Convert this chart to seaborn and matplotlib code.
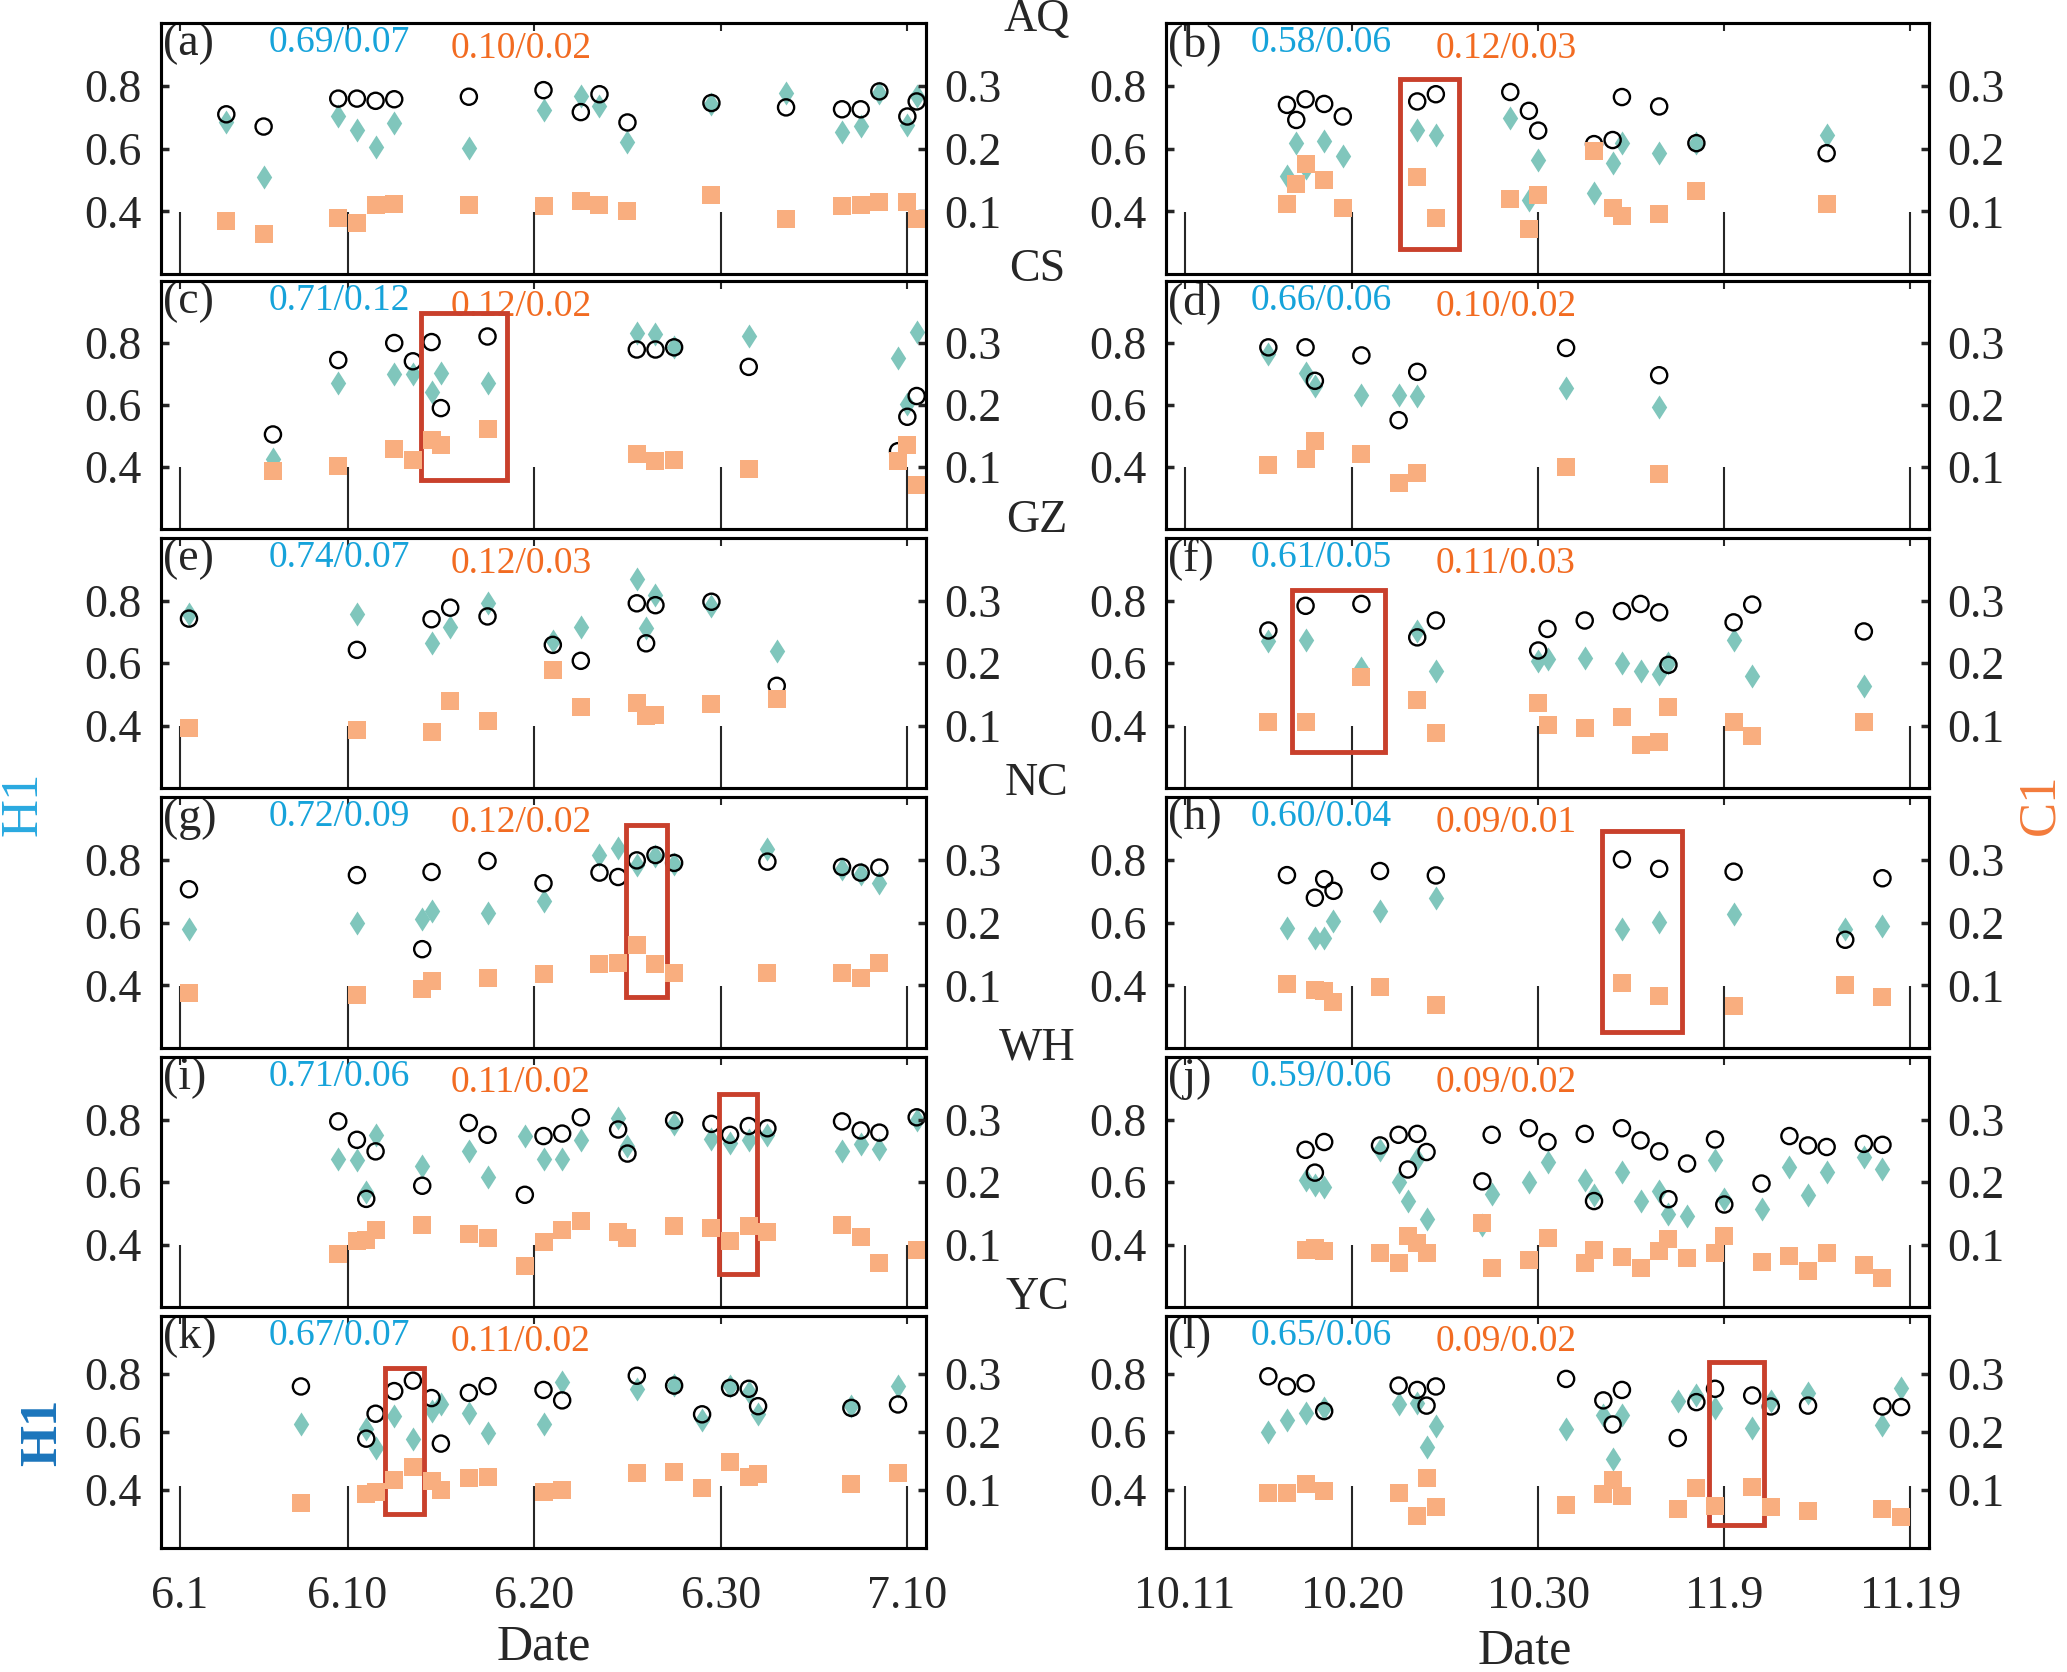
import matplotlib
matplotlib.use("Agg")
import matplotlib.pyplot as plt
from matplotlib.patches import Rectangle
from matplotlib.path import Path
import seaborn as sns

# days counted from the first tick of each column (6.1 on the left, 10.11 on the right)
# obs = open circles (H1), mod = teal diamonds (H1), c1 = squares on right axis (C1)
a_day = [2.5, 4.5, 8.5, 9.5, 10.5, 11.5, 15.5, 19.5, 21.5, 22.5, 24, 28.5, 32.5, 35.5, 36.5, 37.5, 39, 39.5]
a_obs = [0.709, 0.670, 0.759, 0.759, 0.752, 0.757, 0.765, 0.786, 0.716, 0.773, 0.683, 0.745, 0.731, 0.725, 0.725, 0.782, 0.702, 0.750]
a_mod = [0.686, 0.510, 0.702, 0.659, 0.604, 0.681, 0.603, 0.723, 0.768, 0.734, 0.620, 0.742, 0.777, 0.654, 0.672, 0.777, 0.675, 0.766]
a_c1 = [0.084, 0.064, 0.090, 0.082, 0.110, 0.112, 0.110, 0.108, 0.116, 0.110, 0.101, 0.126, 0.087, 0.108, 0.110, 0.115, 0.115, 0.087]

b_day = [5.5, 6, 6.5, 7.5, 8.5, 12.5, 13.5, 17.5, 18.5, 19, 22, 23, 23.5, 25.5, 27.5, 34.5]
b_obs = [0.739, 0.691, 0.757, 0.742, 0.702, 0.750, 0.773, 0.780, 0.720, 0.657, 0.614, 0.627, 0.764, 0.734, 0.617, 0.585]
b_mod = [0.513, 0.617, 0.537, 0.624, 0.577, 0.659, 0.643, 0.697, 0.437, 0.563, 0.459, 0.553, 0.617, 0.585, 0.617, 0.643]
b_c1 = [0.112, 0.144, 0.175, 0.150, 0.105, 0.155, 0.089, 0.120, 0.071, 0.126, 0.196, 0.105, 0.092, 0.095, 0.132, 0.112]

c_day = [5, 8.5, 11.5, 12.5, 13.5, 14, 16.5, 24.5, 25.5, 26.5, 30.5, 38.5, 39, 39.5]
c_obs = [0.505, 0.745, 0.800, 0.741, 0.803, 0.590, 0.821, 0.779, 0.779, 0.786, 0.723, 0.451, 0.562, 0.629]
c_mod = [0.427, 0.670, 0.699, 0.699, 0.643, 0.702, 0.670, 0.832, 0.829, 0.786, 0.821, 0.752, 0.603, 0.837]
c_c1 = [0.094, 0.102, 0.129, 0.111, 0.143, 0.136, 0.161, 0.121, 0.110, 0.112, 0.097, 0.110, 0.135, 0.071]

d_day = [4.5, 6.5, 7, 9.5, 11.5, 12.5, 20.5, 25.5]
d_obs = [0.786, 0.786, 0.678, 0.760, 0.551, 0.707, 0.784, 0.696]
d_mod = [0.765, 0.702, 0.662, 0.631, 0.631, 0.629, 0.656, 0.594]
d_c1 = [0.103, 0.113, 0.142, 0.121, 0.074, 0.091, 0.100, 0.088]

e_day = [0.5, 9.5, 13.5, 14.5, 16.5, 20, 21.5, 24.5, 25, 25.5, 28.5, 32]
e_obs = [0.742, 0.642, 0.740, 0.777, 0.749, 0.658, 0.607, 0.791, 0.663, 0.785, 0.796, 0.527]
e_mod = [0.756, 0.758, 0.665, 0.716, 0.792, 0.669, 0.716, 0.869, 0.711, 0.817, 0.782, 0.637]
e_c1 = [0.096, 0.093, 0.090, 0.139, 0.107, 0.189, 0.129, 0.136, 0.116, 0.117, 0.135, 0.143]

f_day = [4.5, 6.5, 9.5, 12.5, 13.5, 19, 19.5, 21.5, 23.5, 24.5, 25.5, 26, 29.5, 30.5, 36.5]
f_obs = [0.704, 0.783, 0.789, 0.682, 0.736, 0.640, 0.709, 0.736, 0.766, 0.789, 0.762, 0.594, 0.730, 0.787, 0.701]
f_mod = [0.672, 0.674, 0.583, 0.701, 0.575, 0.605, 0.612, 0.615, 0.599, 0.573, 0.565, 0.599, 0.674, 0.559, 0.525]
f_c1 = [0.106, 0.105, 0.177, 0.141, 0.088, 0.136, 0.101, 0.096, 0.113, 0.069, 0.074, 0.129, 0.106, 0.084, 0.106]

g_day = [0.5, 9.5, 13, 13.5, 16.5, 19.5, 22.5, 23.5, 24.5, 25.5, 26.5, 31.5, 35.5, 36.5, 37.5]
g_obs = [0.706, 0.751, 0.515, 0.761, 0.796, 0.725, 0.759, 0.745, 0.798, 0.815, 0.790, 0.794, 0.777, 0.759, 0.775]
g_mod = [0.579, 0.600, 0.611, 0.637, 0.629, 0.667, 0.814, 0.838, 0.783, 0.812, 0.785, 0.833, 0.769, 0.753, 0.727]
g_c1 = [0.088, 0.085, 0.094, 0.107, 0.111, 0.118, 0.134, 0.135, 0.164, 0.134, 0.119, 0.120, 0.119, 0.111, 0.135]

h_day = [5.5, 7, 7.5, 8, 10.5, 13.5, 23.5, 25.5, 29.5, 35.5, 37.5]
h_obs = [0.751, 0.679, 0.738, 0.701, 0.764, 0.750, 0.801, 0.771, 0.762, 0.545, 0.741]
h_mod = [0.582, 0.550, 0.550, 0.605, 0.637, 0.679, 0.579, 0.602, 0.626, 0.579, 0.589]
h_c1 = [0.102, 0.093, 0.091, 0.073, 0.098, 0.069, 0.103, 0.083, 0.067, 0.101, 0.081]

i_day = [8.5, 9.5, 10, 10.5, 13, 15.5, 16.5, 18.5, 19.5, 20.5, 21.5, 23.5, 24, 26.5, 28.5, 29.5, 30.5, 31.5, 35.5, 36.5, 37.5, 39.5]
i_obs = [0.794, 0.735, 0.546, 0.698, 0.588, 0.789, 0.751, 0.559, 0.747, 0.755, 0.807, 0.768, 0.691, 0.797, 0.786, 0.751, 0.779, 0.772, 0.794, 0.765, 0.758, 0.807]
i_mod = [0.673, 0.670, 0.569, 0.751, 0.652, 0.699, 0.617, 0.747, 0.675, 0.675, 0.733, 0.804, 0.714, 0.786, 0.739, 0.725, 0.733, 0.751, 0.698, 0.723, 0.707, 0.797]
i_c1 = [0.085, 0.106, 0.108, 0.124, 0.131, 0.117, 0.111, 0.065, 0.104, 0.123, 0.138, 0.120, 0.111, 0.130, 0.127, 0.106, 0.130, 0.120, 0.132, 0.112, 0.071, 0.092]

j_day = [6.5, 7, 7.5, 10.5, 11.5, 12, 12.5, 13, 16, 16.5, 18.5, 19.5, 21.5, 22, 23.5, 24.5, 25.5, 26, 27, 28.5, 29, 31, 32.5, 33.5, 34.5, 36.5, 37.5]
j_obs = [0.703, 0.630, 0.728, 0.717, 0.751, 0.640, 0.754, 0.696, 0.602, 0.751, 0.772, 0.728, 0.754, 0.539, 0.772, 0.733, 0.698, 0.545, 0.659, 0.736, 0.528, 0.595, 0.747, 0.717, 0.712, 0.722, 0.719]
j_mod = [0.605, 0.589, 0.584, 0.701, 0.600, 0.538, 0.674, 0.483, 0.462, 0.563, 0.600, 0.664, 0.605, 0.557, 0.632, 0.538, 0.570, 0.499, 0.491, 0.671, 0.547, 0.515, 0.648, 0.560, 0.632, 0.680, 0.643]
j_c1 = [0.092, 0.094, 0.090, 0.087, 0.070, 0.113, 0.103, 0.087, 0.134, 0.063, 0.075, 0.111, 0.071, 0.092, 0.080, 0.062, 0.090, 0.109, 0.079, 0.087, 0.114, 0.072, 0.081, 0.057, 0.086, 0.067, 0.047]

k_day = [6.5, 10, 10.5, 11.5, 12.5, 13.5, 14, 15.5, 16.5, 19.5, 20.5, 24.5, 26.5, 28, 29.5, 30.5, 31, 36, 38.5]
k_obs = [0.757, 0.577, 0.663, 0.741, 0.777, 0.717, 0.560, 0.735, 0.758, 0.745, 0.709, 0.794, 0.760, 0.661, 0.752, 0.749, 0.689, 0.683, 0.695]
k_mod = [0.629, 0.611, 0.545, 0.655, 0.577, 0.674, 0.697, 0.666, 0.598, 0.626, 0.771, 0.749, 0.762, 0.642, 0.760, 0.737, 0.663, 0.688, 0.757]
k_c1 = [0.078, 0.093, 0.096, 0.117, 0.139, 0.116, 0.100, 0.120, 0.122, 0.096, 0.100, 0.129, 0.131, 0.103, 0.149, 0.123, 0.127, 0.111, 0.129]

l_day = [4.5, 5.5, 6.5, 7.5, 11.5, 12.5, 13, 13.5, 20.5, 22.5, 23, 23.5, 26.5, 27.5, 28.5, 30.5, 31.5, 33.5, 37.5, 38.5]
l_obs = [0.792, 0.757, 0.768, 0.672, 0.760, 0.745, 0.691, 0.757, 0.783, 0.709, 0.626, 0.745, 0.579, 0.703, 0.749, 0.726, 0.688, 0.691, 0.688, 0.686]
l_mod = [0.600, 0.642, 0.666, 0.683, 0.697, 0.699, 0.549, 0.619, 0.611, 0.657, 0.506, 0.657, 0.706, 0.726, 0.683, 0.614, 0.706, 0.735, 0.623, 0.752]
l_c1 = [0.095, 0.095, 0.111, 0.099, 0.094, 0.055, 0.121, 0.071, 0.074, 0.093, 0.117, 0.090, 0.067, 0.103, 0.073, 0.106, 0.070, 0.063, 0.067, 0.053]

sites = ['AQ', 'CS', 'GZ', 'NC', 'WH', 'YC']
h1_stats = ['0.69/0.07', '0.58/0.06', '0.71/0.12', '0.66/0.06', '0.74/0.07', '0.61/0.05',
            '0.72/0.09', '0.60/0.04', '0.71/0.06', '0.59/0.06', '0.67/0.07', '0.65/0.06']
c1_stats = ['0.10/0.02', '0.12/0.03', '0.12/0.02', '0.10/0.02', '0.12/0.03', '0.11/0.03',
            '0.12/0.02', '0.09/0.01', '0.11/0.02', '0.09/0.02', '0.11/0.02', '0.09/0.02']
summer_ticks = ['6.1', '6.10', '6.20', '6.30', '7.10']
autumn_ticks = ['10.11', '10.20', '10.30', '11.9', '11.19']
tick_days = [0, 9, 19, 29, 39]

# highlighted windows: (day start, day end, H1 low, H1 high)
boxes = {'b': (11.6, 14.75, 0.281, 0.822), 'c': (12.95, 17.55, 0.357, 0.898),
         'f': (5.75, 10.77, 0.314, 0.834), 'g': (23.9, 26.1, 0.362, 0.912),
         'h': (22.45, 26.72, 0.251, 0.893), 'i': (28.88, 30.92, 0.305, 0.881),
         'k': (11.0, 13.1, 0.318, 0.819), 'l': (28.17, 31.16, 0.280, 0.842)}

panels = [
    ('a', a_day, a_obs, a_mod, a_c1), ('b', b_day, b_obs, b_mod, b_c1),
    ('c', c_day, c_obs, c_mod, c_c1), ('d', d_day, d_obs, d_mod, d_c1),
    ('e', e_day, e_obs, e_mod, e_c1), ('f', f_day, f_obs, f_mod, f_c1),
    ('g', g_day, g_obs, g_mod, g_c1), ('h', h_day, h_obs, h_mod, h_c1),
    ('i', i_day, i_obs, i_mod, i_c1), ('j', j_day, j_obs, j_mod, j_c1),
    ('k', k_day, k_obs, k_mod, k_c1), ('l', l_day, l_obs, l_mod, l_c1),
]

MOD_COLOR = '#80C6BC'
C1_COLOR = '#F9AE7F'
BLUE_TXT = '#16A3DA'
ORANGE_TXT = '#F26B21'
BOX_COLOR = '#C9402C'
diamond = Path([(0, 1), (0.64, 0), (0, -1), (-0.64, 0), (0, 1)],
               [Path.MOVETO, Path.LINETO, Path.LINETO, Path.LINETO, Path.CLOSEPOLY])

sns.set_style("white")
plt.rcParams['font.family'] = ['Liberation Serif', 'DejaVu Serif']

W, H = 2067, 1672
fig = plt.figure(figsize=(W / 100, H / 100), dpi=100)

rows_px = [(23, 274), (281, 529), (538, 788), (797, 1048), (1057, 1307), (1316, 1548)]
cols_px = [(161, 926), (1166, 1929)]
TICK_FS = 33

for idx, (letter, day, obs, mod, c1) in enumerate(panels):
    r, c = divmod(idx, 2)
    x0, x1 = cols_px[c]
    y0, y1 = rows_px[r]
    ax = fig.add_axes([x0 / W, 1 - y1 / H, (x1 - x0) / W, (y1 - y0) / H])

    sns.scatterplot(x=day, y=mod, marker=diamond, s=300, color=MOD_COLOR,
                    linewidth=0, ax=ax, zorder=2)
    sns.scatterplot(x=day, y=obs, marker='o', s=135, facecolor='none',
                    edgecolor='black', linewidth=1.7, ax=ax, zorder=3)
    ax.set_xlim(-1, 40)
    ax.set_ylim(0.2, 1.0)

    if letter in boxes:
        bx0, bx1, by0, by1 = boxes[letter]
        ax.add_patch(Rectangle((bx0, by0), bx1 - bx0, by1 - by0, fill=False,
                               edgecolor=BOX_COLOR, linewidth=3.5, zorder=5))

    ax2 = ax.twinx()
    sns.scatterplot(x=day, y=c1, marker='s', s=165, color=C1_COLOR,
                    linewidth=0, ax=ax2, zorder=2)
    ax2.set_ylim(0, 0.4)
    ax2.set_xlim(-1, 40)

    # ticks: long inward ticks at the bottom, short ones on top
    ax.set_xticks(tick_days)
    ax.set_xticks(tick_days, minor=True)
    ax.xaxis.remove_overlapping_locs = False
    ax.tick_params(axis='x', which='major', direction='in', length=45, width=1.5,
                   bottom=True, top=False, labelsize=TICK_FS, pad=20)
    ax.tick_params(axis='x', which='minor', direction='in', length=6, width=1.5,
                   bottom=False, top=True)
    if r == 5:
        ax.set_xticklabels(summer_ticks if c == 0 else autumn_ticks)
        ax.set_xlabel('Date', fontsize=36, labelpad=4)
        if c == 1:
            ax.xaxis.set_label_coords(0.47, -0.345)
    else:
        ax.set_xticklabels([])
    ax.set_yticks([0.4, 0.6, 0.8])
    ax.set_yticklabels(['0.4', '0.6', '0.8'])
    ax.tick_params(axis='y', direction='in', length=6, width=2.5, labelsize=TICK_FS,
                   pad=14, left=True, right=False)
    ax2.set_yticks([0.1, 0.2, 0.3])
    ax2.set_yticklabels(['0.1', '0.2', '0.3'])
    ax2.tick_params(axis='y', direction='in', length=6, width=2.5, labelsize=TICK_FS,
                    pad=13)
    ax.set_ylabel('')
    ax2.set_ylabel('')
    for a in (ax, ax2):
        for sp in a.spines.values():
            sp.set_linewidth(2.2)
            sp.set_color('black')

    # panel label and mean/std texts
    ax.text(0.003, 1.0, f'({letter})', transform=ax.transAxes, fontsize=33,
            va='top', ha='left', zorder=6)
    tx_blue = 0.141 if c == 0 else 0.111
    tx_orange = 0.379 if c == 0 else 0.354
    ax.text(tx_blue, 0.99, h1_stats[idx], transform=ax.transAxes, fontsize=27,
            color=BLUE_TXT, va='top', ha='left')
    ax.text(tx_orange, 0.965, c1_stats[idx], transform=ax.transAxes, fontsize=27,
            color=ORANGE_TXT, va='top', ha='left')

# site names between the columns
site_y = [20, 270, 521, 784, 1048, 1298]
for name, yy in zip(sites, site_y):
    fig.text(1037 / W, 1 - yy / H, name, fontsize=33, ha='center', va='center')

fig.text(24 / W, 1 - 804 / H, 'H1', rotation=90, color='#29A9E0', fontsize=38,
         ha='center', va='center')
fig.text(43 / W, 1 - 1432 / H, 'H1', rotation=90, color='#1B75BC', fontsize=38,
         fontweight='bold', ha='center', va='center')
fig.text(2040 / W, 1 - 804 / H, 'C1', rotation=90, color='#F37B3B', fontsize=38,
         ha='center', va='center')

fig.savefig('out.png', dpi=100)
